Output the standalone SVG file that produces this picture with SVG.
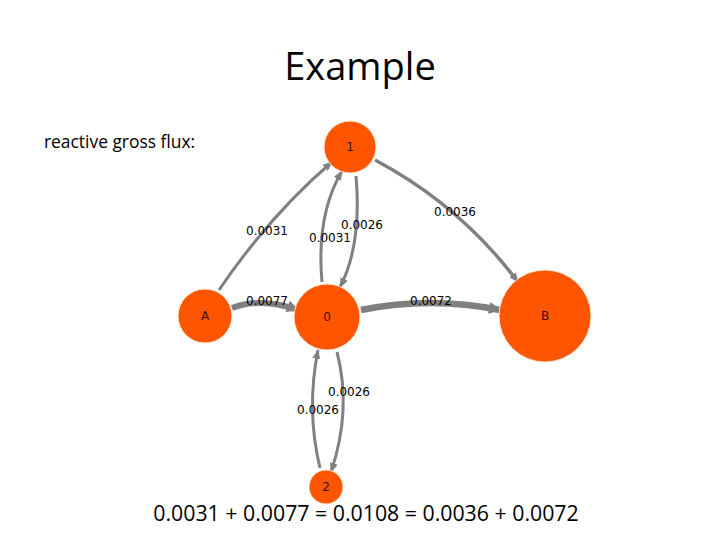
<svg xmlns="http://www.w3.org/2000/svg" width="720" height="540" viewBox="0 0 720 540">
<defs>
<style>
.node{fill:#FF5500;stroke:#FFE8D0;stroke-width:1}
.nl{font-family:"DejaVu Sans",sans-serif;font-size:12px;fill:#3a1000;text-anchor:middle}
.edge{fill:none;stroke:#808080;stroke-linecap:butt}
.el{font-family:"DejaVu Sans",sans-serif;font-size:12px;fill:#000;text-anchor:middle}
.t{font-family:"Open Sans","Liberation Sans",sans-serif;fill:#000}
</style>
<marker id="ah" viewBox="0 0 10 8" refX="9" refY="4" markerWidth="10" markerHeight="8" markerUnits="userSpaceOnUse" orient="auto"><path d="M0,0 L10,4 L0,8 Z" fill="#808080"/></marker>
<marker id="ahb" viewBox="0 0 12 12" refX="11" refY="6" markerWidth="13" markerHeight="12" markerUnits="userSpaceOnUse" orient="auto"><path d="M0,0 L12,6 L0,12 Z" fill="#808080"/></marker>
</defs>
<text class="t" x="360" y="80" font-size="38" text-anchor="middle">Example</text>
<text class="t" x="44" y="148" font-size="17.4">reactive gross flux:</text>
<text class="t" x="366" y="521" font-size="21.3" text-anchor="middle">0.0031 + 0.0077 = 0.0108 = 0.0036 + 0.0072</text>
<g id="connectors">
<path class="edge" stroke-width="3" d="M219,290 Q270,215 332,162" marker-end="url(#ah)"/>
<path class="edge" stroke-width="3" d="M322,282 Q316,215 342,171" marker-end="url(#ah)"/>
<path class="edge" stroke-width="3" d="M356,176 Q362,245 340,287" marker-end="url(#ah)"/>
<path class="edge" stroke-width="3.5" d="M375,160 Q460,205 518,282" marker-end="url(#ah)"/>
<path class="edge" stroke-width="6" d="M232,308 Q262,297 298,310" marker-end="url(#ahb)"/>
<path class="edge" stroke-width="6.5" d="M361,310 Q430,296 500,310" marker-end="url(#ahb)"/>
<path class="edge" stroke-width="3" d="M337,352 Q352,410 331,472" marker-end="url(#ah)"/>
<path class="edge" stroke-width="3" d="M320,468 Q306,410 318,350" marker-end="url(#ah)"/>
</g>
<g id="edge-labels">
<text class="el" x="267" y="235">0.0031</text>
<text class="el" x="330" y="242">0.0031</text>
<text class="el" x="362" y="229">0.0026</text>
<text class="el" x="455" y="216">0.0036</text>
<text class="el" x="267" y="305">0.0077</text>
<text class="el" x="431" y="305">0.0072</text>
<text class="el" x="349" y="396">0.0026</text>
<text class="el" x="318" y="414">0.0026</text>
</g>
<g id="node-1"><circle class="node" cx="350" cy="147" r="26"/><text class="nl" x="350" y="151">1</text></g>
<g id="node-A"><circle class="node" cx="205" cy="316" r="27"/><text class="nl" x="205" y="320">A</text></g>
<g id="node-0"><circle class="node" cx="327" cy="317" r="33"/><text class="nl" x="327" y="321">0</text></g>
<g id="node-B"><circle class="node" cx="545" cy="316" r="46"/><text class="nl" x="545" y="320">B</text></g>
<g id="node-2"><circle class="node" cx="326" cy="487" r="17"/><text class="nl" x="326" y="491">2</text></g>
</svg>
